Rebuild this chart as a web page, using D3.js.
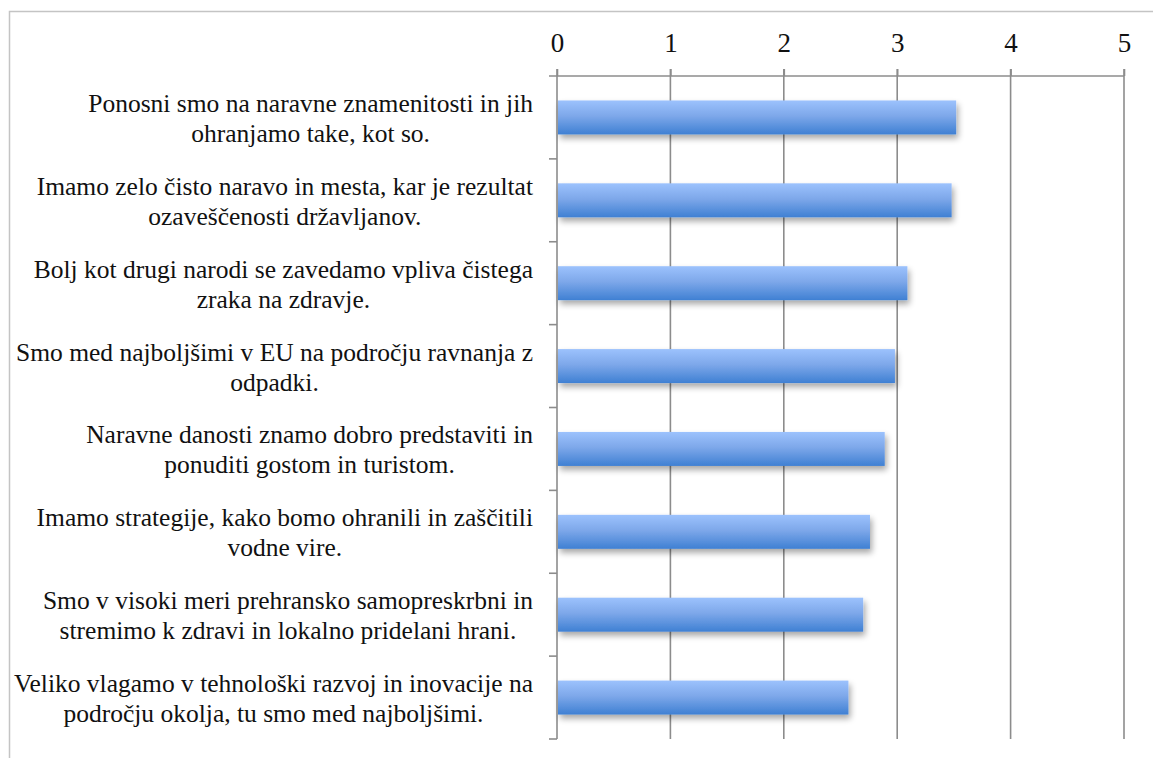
<!DOCTYPE html>
<html>
<head>
<meta charset="utf-8">
<script src="https://cdn.jsdelivr.net/npm/d3@7"></script>
<style>
  body { margin: 0; background: #fff; }
  svg { display: block; }
  .lbl { font-family: "Liberation Serif", "DejaVu Serif", serif; font-size: 25.5px; fill: #111; }
  .tick-lbl { font-family: "Liberation Serif", "DejaVu Serif", serif; font-size: 27px; fill: #111; }
</style>
</head>
<body>
<div id="chart"></div>
<script>
// statements, top to bottom, each split into its two printed lines
let categories = [
  ["Ponosni smo na naravne znamenitosti in jih", "ohranjamo take, kot so."],
  ["Imamo zelo čisto naravo in mesta, kar je rezultat", "ozaveščenosti državljanov."],
  ["Bolj kot drugi narodi se zavedamo vpliva čistega", "zraka na zdravje."],
  ["Smo med najboljšimi v EU na področju ravnanja z", "odpadki."],
  ["Naravne danosti znamo dobro predstaviti in", "ponuditi gostom in turistom."],
  ["Imamo strategije, kako bomo ohranili in zaščitili", "vodne vire."],
  ["Smo v visoki meri prehransko samopreskrbni in", "stremimo k zdravi in lokalno pridelani hrani."],
  ["Veliko vlagamo v tehnološki razvoj in inovacije na", "področju okolja, tu smo med najboljšimi."]
];
let values = [3.52, 3.48, 3.09, 2.98, 2.89, 2.76, 2.70, 2.57];
let tickValues = [0, 1, 2, 3, 4, 5];

var W = 1153, H = 758;
var margin = { top: 76, left: 557, right: 29, bottom: 19 };

var svg = d3.select("#chart").append("svg")
  .attr("width", W).attr("height", H);

var defs = svg.append("defs");
var grad = defs.append("linearGradient")
  .attr("id", "barGrad").attr("x1", 0).attr("y1", 0).attr("x2", 0).attr("y2", 1);
grad.append("stop").attr("offset", "0%").attr("stop-color", "#9cc2fd");
grad.append("stop").attr("offset", "45%").attr("stop-color", "#7ea8ea");
grad.append("stop").attr("offset", "100%").attr("stop-color", "#3f80d3");

var shadow = defs.append("filter").attr("id", "shadow")
  .attr("x", "-5%").attr("y", "-20%").attr("width", "115%").attr("height", "160%");
shadow.append("feGaussianBlur").attr("in", "SourceAlpha").attr("stdDeviation", 3);
shadow.append("feOffset").attr("dx", 2).attr("dy", 4).attr("result", "ob");
shadow.append("feComponentTransfer").append("feFuncA").attr("type", "linear").attr("slope", 0.35);
var merge = shadow.append("feMerge");
merge.append("feMergeNode");
merge.append("feMergeNode").attr("in", "SourceGraphic");

// outer frame
svg.append("path")
  .attr("d", "M9.5," + (H + 5) + "V11.5H" + (W + 5))
  .attr("fill", "none").attr("stroke", "#c4c4c4").attr("stroke-width", 1.5);

var x = d3.scaleLinear().domain([0, 5]).range([margin.left, W - margin.right]);
var y = d3.scaleBand().domain(d3.range(categories.length))
  .range([margin.top, H - margin.bottom]).paddingInner(0.59).paddingOuter(0.295);
var yb = d3.scaleBand().domain(d3.range(categories.length))
  .range([margin.top, H - margin.bottom]);

// gridlines
svg.append("g").selectAll("line")
  .data(tickValues.slice(1))
  .enter().append("line")
  .attr("x1", d => x(d)).attr("x2", d => x(d))
  .attr("y1", margin.top - 7).attr("y2", H - margin.bottom)
  .attr("stroke", "#8c8c8c").attr("stroke-width", 1.6);

// top axis
var xAxis = svg.append("g")
  .attr("transform", "translate(0," + margin.top + ")")
  .call(d3.axisTop(x).tickValues(tickValues).tickFormat(d3.format("d"))
    .tickSize(7).tickPadding(17).tickSizeOuter(0));
xAxis.select(".domain").remove();
xAxis.selectAll(".tick line").attr("stroke", "#8c8c8c").attr("stroke-width", 1.6);
xAxis.selectAll(".tick text").attr("class", "tick-lbl");
xAxis.attr("font-family", null).attr("font-size", null);
xAxis.append("line")
  .attr("x1", x(0) - 8).attr("x2", x(5))
  .attr("y1", 0).attr("y2", 0)
  .attr("stroke", "#8c8c8c").attr("stroke-width", 1.6);

// left axis with ticks at band edges
var leftAxis = svg.append("g");
leftAxis.append("line")
  .attr("x1", x(0)).attr("x2", x(0))
  .attr("y1", margin.top - 7).attr("y2", H - margin.bottom)
  .attr("stroke", "#8c8c8c").attr("stroke-width", 1.6);
leftAxis.selectAll(".edge")
  .data(d3.range(1, categories.length + 1))
  .enter().append("line")
  .attr("x1", x(0) - 8).attr("x2", x(0))
  .attr("y1", d => yb(d - 1) + yb.bandwidth()).attr("y2", d => yb(d - 1) + yb.bandwidth())
  .attr("stroke", "#8c8c8c").attr("stroke-width", 1.6);

// bars
svg.append("g").selectAll("rect")
  .data(values)
  .enter().append("rect")
  .attr("x", x(0) + 1)
  .attr("y", (d, i) => y(i))
  .attr("width", d => x(d) - x(0) - 1)
  .attr("height", y.bandwidth())
  .attr("fill", "url(#barGrad)")
  .attr("filter", "url(#shadow)");

// category labels: each block of lines centred, block right edge at 533
var labelRight = 533;
var lineH = 30;
svg.append("g").selectAll("text")
  .data(categories)
  .enter().append("text")
  .attr("class", "lbl")
  .attr("text-anchor", "middle")
  .each(function(d, i) {
    var t = d3.select(this);
    var cy = yb(i) + yb.bandwidth() / 2;
    d.forEach(function(line, j) {
      t.append("tspan")
        .attr("y", cy + 9.5 + (j - (d.length - 1) / 2) * lineH)
        .text(line);
    });
    var maxW = 0;
    t.selectAll("tspan").each(function() {
      maxW = Math.max(maxW, this.getComputedTextLength());
    });
    t.selectAll("tspan").attr("x", labelRight - maxW / 2);
  });
</script>
</body>
</html>
